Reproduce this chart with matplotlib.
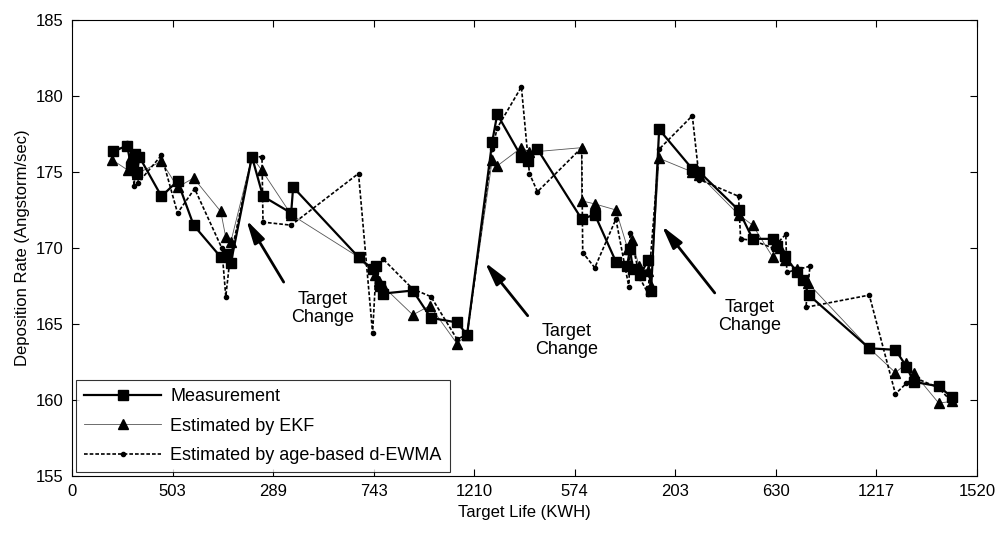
import numpy as np
import matplotlib.pyplot as plt

plt.rcParams['font.family'] = ['Liberation Sans', 'DejaVu Sans']

# x positions are in tick units (0..9), labels are target life at each tick
tick_labels = ['0', '503', '289', '743', '1210', '574', '203', '630', '1217', '1520']

meas_x = [0.41, 0.55, 0.59, 0.63, 0.65, 0.67, 0.89, 1.05, 1.21, 1.48, 1.54, 1.58,
          1.79, 1.90, 2.18, 2.20, 2.85, 2.99, 3.02, 3.06, 3.09, 3.39, 3.57, 3.83,
          3.93, 4.18, 4.23, 4.47, 4.54, 4.63, 5.07, 5.20, 5.41, 5.52, 5.55, 5.58,
          5.65, 5.73, 5.76, 5.84, 6.17, 6.24, 6.63, 6.77, 6.97, 7.01, 7.09, 7.21,
          7.27, 7.33, 7.93, 8.19, 8.30, 8.37, 8.62, 8.75]
meas_y = [176.4, 176.7, 175.3, 176.2, 175.0, 176.0, 173.4, 174.4, 171.5, 169.4, 169.6, 169.0,
          176.0, 173.4, 172.3, 174.0, 169.4, 168.6, 168.8, 167.5, 167.0, 167.2, 165.4, 165.1,
          164.3, 177.0, 178.8, 176.0, 175.7, 176.5, 171.9, 172.2, 169.1, 168.8, 169.9, 168.6,
          168.2, 169.2, 167.2, 177.8, 175.2, 175.0, 172.5, 170.6, 170.6, 170.1, 169.5, 168.4,
          167.9, 166.9, 163.4, 163.3, 162.2, 161.2, 160.9, 160.2]

ekf_x = [0.40, 0.56, 0.59, 0.62, 0.65, 0.89, 1.05, 1.21, 1.48, 1.53, 1.58, 1.79,
         1.89, 2.18, 2.85, 3.01, 3.05, 3.09, 3.39, 3.56, 3.83, 3.93, 4.18, 4.23,
         4.47, 4.55, 5.07, 5.07, 5.20, 5.41, 5.53, 5.57, 5.64, 5.73, 5.76, 5.84,
         6.17, 6.24, 6.63, 6.77, 6.97, 7.04, 7.09, 7.21, 7.32, 7.93, 8.19, 8.30,
         8.37, 8.62, 8.75]
ekf_y = [175.8, 175.1, 176.0, 175.3, 174.9, 175.7, 174.0, 174.6, 172.4, 170.7, 170.4, 176.0,
         175.1, 172.2, 169.4, 168.2, 167.8, 167.5, 165.6, 166.2, 163.7, 164.3, 175.8, 175.4,
         176.6, 176.3, 176.6, 173.1, 172.9, 172.5, 169.9, 170.5, 168.8, 168.5, 167.5, 175.9,
         175.0, 174.8, 172.2, 171.5, 169.4, 170.0, 169.2, 168.6, 167.7, 163.4, 161.8, 162.4,
         161.8, 159.8, 159.9]

ewma_x = [0.41, 0.55, 0.62, 0.63, 0.66, 0.89, 1.05, 1.22, 1.49, 1.53, 1.57, 1.79,
          1.89, 1.90, 2.18, 2.85, 2.99, 3.02, 3.09, 3.39, 3.57, 3.83, 3.93, 4.18,
          4.23, 4.47, 4.55, 4.63, 5.07, 5.08, 5.20, 5.41, 5.54, 5.55, 5.65, 5.73,
          5.75, 5.84, 6.17, 6.24, 6.63, 6.65, 6.77, 6.97, 7.10, 7.11, 7.34, 7.30,
          7.93, 8.19, 8.30, 8.37, 8.62, 8.76]
ewma_y = [176.2, 176.9, 174.1, 176.0, 174.3, 176.1, 172.3, 173.9, 170.0, 166.8, 169.2, 176.0,
          176.0, 171.7, 171.5, 174.9, 164.4, 168.0, 169.3, 167.3, 166.8, 164.0, 164.3, 176.5,
          177.9, 180.6, 174.9, 173.7, 176.6, 169.7, 168.7, 171.9, 167.4, 171.0, 168.0, 167.0,
          169.0, 176.5, 178.7, 174.5, 173.4, 170.6, 170.5, 170.0, 170.9, 168.4, 168.8, 166.1,
          166.9, 160.4, 161.1, 161.5, 160.8, 159.8]

fig = plt.figure(figsize=(10.05, 5.33), dpi=100)
ax = fig.add_axes([0.0716, 0.107, 0.9004, 0.8555])

ax.plot(meas_x, meas_y, '-', color='black', lw=1.6, marker='s', ms=6.5,
        label='Measurement', zorder=3)
ax.plot(ekf_x, ekf_y, '-', color='#555555', lw=0.6, marker='^', ms=7.5,
        mfc='black', mec='black', label='Estimated by EKF', zorder=2)
ax.plot(ewma_x, ewma_y, color='black', lw=1.2, ls=(0, (2.2, 1.2)), marker='o', ms=3,
        label='Estimated by age-based d-EWMA', zorder=2)

ax.set_xlim(0, 9)
ax.set_ylim(155, 185)
ax.set_xticks(range(10))
ax.set_xticklabels(tick_labels)
ax.set_yticks(range(155, 186, 5))
ax.tick_params(direction='in', top=True, right=True, labelsize=12, length=5, pad=6)
ax.set_xlabel('Target Life (KWH)', fontsize=12)
ax.set_ylabel('Deposition Rate (Angstorm/sec)', fontsize=12)

arrow = dict(arrowstyle='-|>,head_length=1.4,head_width=0.35', color='black', lw=2)
ax.annotate('', xy=(1.72, 172.0), xytext=(2.12, 167.6), arrowprops=arrow)
ax.text(2.49, 166.0, 'Target\nChange', ha='center', va='center', fontsize=13, linespacing=1.1)
ax.annotate('', xy=(4.09, 169.2), xytext=(4.55, 165.4), arrowprops=arrow)
ax.text(4.92, 163.9, 'Target\nChange', ha='center', va='center', fontsize=13, linespacing=1.1)
ax.annotate('', xy=(5.85, 171.6), xytext=(6.41, 166.9), arrowprops=arrow)
ax.text(6.74, 165.5, 'Target\nChange', ha='center', va='center', fontsize=13, linespacing=1.1)

leg = ax.legend(loc='lower left', fontsize=13, fancybox=False, edgecolor='black',
                handlelength=4.3, borderaxespad=0.2, labelspacing=0.7, borderpad=0.45,
                handletextpad=0.5)
leg.get_frame().set_linewidth(0.8)

fig.savefig('out.png', dpi=100)
